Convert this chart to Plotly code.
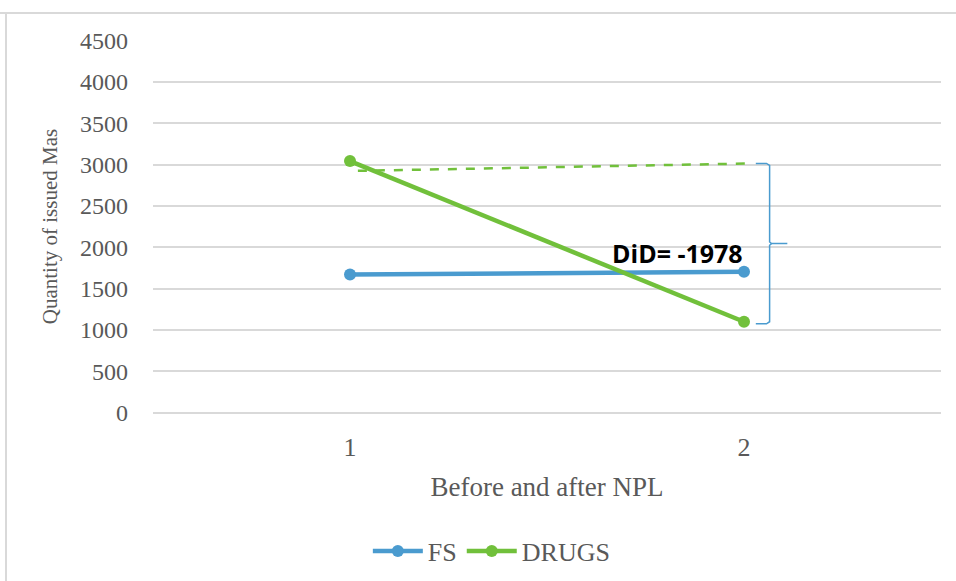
import plotly.graph_objects as go

# Periods: before (1) and after (2) the NPL
periods = [1, 2]
fs_values = [1670, 1705]
drugs_values = [3043, 1100]
# Counterfactual DRUGS trend (parallel-trend assumption)
drugs_counterfactual = [2925, 3015]
did_value = -1978

y_ticks = [0, 500, 1000, 1500, 2000, 2500, 3000, 3500, 4000, 4500]

BLUE = "#4a9bcf"
GREEN = "#71c03b"
GRAY_TXT = "#595959"
GRID = "#d9d9d9"
SERIF = "Liberation Serif, Times New Roman, serif"

fig = go.Figure()

fig.add_trace(go.Scatter(
    x=periods, y=fs_values, name="FS", mode="lines+markers",
    line=dict(color=BLUE, width=4.5), marker=dict(size=12, color=BLUE),
))
fig.add_trace(go.Scatter(
    x=periods, y=drugs_values, name="DRUGS", mode="lines+markers",
    line=dict(color=GREEN, width=4.5), marker=dict(size=12, color=GREEN),
))
fig.add_trace(go.Scatter(
    x=[1.02, 2.02], y=drugs_counterfactual, mode="lines", showlegend=False,
    line=dict(color=GREEN, width=2.5, dash="dash"), hoverinfo="skip",
))

# Curly brace spanning the counterfactual gap
top = drugs_counterfactual[1]
bot = drugs_values[1] - 25
mid = (top + bot) / 2
x0, x1, x2 = 2.03, 2.065, 2.11
brace_x = [x0, x1 - 0.008, x1, x1, x1 + 0.005, x2, x1 + 0.005, x1, x1, x1 - 0.008, x0]
brace_y = [top, top, top - 25, mid + 20, mid, mid, mid, mid - 20, bot + 25, bot, bot]
fig.add_trace(go.Scatter(
    x=brace_x, y=brace_y, mode="lines", showlegend=False,
    line=dict(color=BLUE, width=1.5), hoverinfo="skip",
))

fig.add_annotation(
    x=1.66, y=1930, xref="x", yref="y", xanchor="left", yanchor="middle",
    text=f"<b>DiD= {did_value}</b>", showarrow=False,
    font=dict(family="Open Sans, Liberation Sans, sans-serif", size=25, color="#000000"),
)

# Chart frame (top and left edges)
fig.add_shape(type="line", xref="paper", yref="paper", x0=-153/788, x1=1.05,
              y0=1 + 27/373, y1=1 + 27/373, line=dict(color=GRID, width=2))
fig.add_shape(type="line", xref="paper", yref="paper", x0=-147/788, x1=-147/788,
              y0=1 + 27/373, y1=-0.5, line=dict(color=GRID, width=2))

fig.update_layout(
    width=956, height=581,
    margin=dict(l=153, r=15, t=40, b=168, autoexpand=False),
    paper_bgcolor="white", plot_bgcolor="white",
    font=dict(family=SERIF, color=GRAY_TXT, size=18),
    xaxis=dict(
        range=[0.5, 2.5], tickvals=periods, ticktext=[str(p) for p in periods],
        showgrid=False, zeroline=False, showline=False, ticks="", automargin=False,
        tickfont=dict(family=SERIF, size=26, color=GRAY_TXT), ticklabelstandoff=16,
        title=dict(text="Before and after NPL", font=dict(family=SERIF, size=27, color=GRAY_TXT), standoff=16),
    ),
    yaxis=dict(
        range=[-4, 4508], tickvals=y_ticks, showgrid=True, gridcolor=GRID, gridwidth=1.8,
        zeroline=True, zerolinecolor=GRID, zerolinewidth=1.8, showline=False, ticks="",
        ticklabelstandoff=24, automargin=False,
        tickfont=dict(family=SERIF, size=24, color=GRAY_TXT),
        title=dict(text="Quantity of issued Mas", font=dict(family=SERIF, size=21, color=GRAY_TXT), standoff=16),
    ),
    legend=dict(
        orientation="h", x=0.43, xanchor="center", y=-0.37, yanchor="middle",
        font=dict(family=SERIF, size=26, color=GRAY_TXT), itemwidth=50,
        bgcolor="rgba(0,0,0,0)",
    ),
    showlegend=True,
)

fig.write_html("out.html")
